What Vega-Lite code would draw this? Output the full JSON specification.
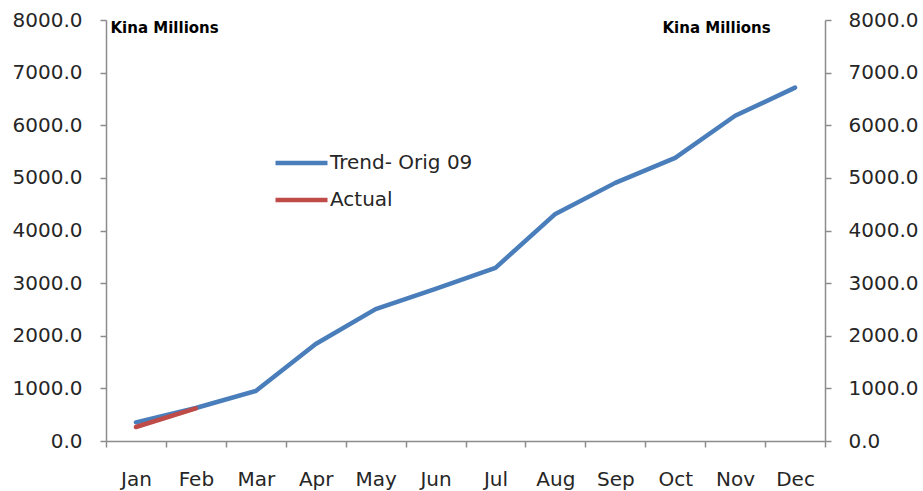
{
  "$schema": "https://vega.github.io/schema/vega-lite/v6.json",
  "width": 719,
  "height": 421,
  "autosize": {"type": "none"},
  "padding": {"left": 106, "top": 20, "right": 98, "bottom": 50},
  "background": "white",
  "config": {
    "view": {"stroke": null},
    "font": "DejaVu Sans",
    "axis": {
      "domainColor": "#8c8c8c",
      "tickColor": "#8c8c8c",
      "domainWidth": 1.5,
      "tickWidth": 1.5,
      "tickSize": 6,
      "grid": false,
      "labelFont": "DejaVu Sans",
      "labelFontSize": 20,
      "labelColor": "#262626"
    }
  },
  "data": {
    "values": [
      {"month": "Jan", "series": "Trend- Orig 09", "value": 355},
      {"month": "Feb", "series": "Trend- Orig 09", "value": 627},
      {"month": "Mar", "series": "Trend- Orig 09", "value": 950},
      {"month": "Apr", "series": "Trend- Orig 09", "value": 1844},
      {"month": "May", "series": "Trend- Orig 09", "value": 2505},
      {"month": "Jun", "series": "Trend- Orig 09", "value": 2890},
      {"month": "Jul", "series": "Trend- Orig 09", "value": 3290},
      {"month": "Aug", "series": "Trend- Orig 09", "value": 4315},
      {"month": "Sep", "series": "Trend- Orig 09", "value": 4905},
      {"month": "Oct", "series": "Trend- Orig 09", "value": 5380},
      {"month": "Nov", "series": "Trend- Orig 09", "value": 6180},
      {"month": "Dec", "series": "Trend- Orig 09", "value": 6715},
      {"month": "Jan", "series": "Actual", "value": 266},
      {"month": "Feb", "series": "Actual", "value": 620}
    ]
  },
  "layer": [
    {
      "mark": {"type": "line", "strokeWidth": 4.5, "strokeCap": "round", "strokeJoin": "round"},
      "encoding": {
        "x": {
          "field": "month",
          "type": "ordinal",
          "sort": ["Jan", "Feb", "Mar", "Apr", "May", "Jun", "Jul", "Aug", "Sep", "Oct", "Nov", "Dec"],
          "scale": {"type": "band", "paddingInner": 0, "paddingOuter": 0},
          "axis": {"title": null, "labelAngle": 0, "tickBand": "extent", "labelPadding": 22}
        },
        "y": {
          "field": "value",
          "type": "quantitative",
          "scale": {"domain": [0, 8000]},
          "axis": {
            "orient": "left",
            "values": [0, 1000, 2000, 3000, 4000, 5000, 6000, 7000, 8000],
            "format": ".1f",
            "labelPadding": 18,
            "title": "Kina Millions",
            "titleAngle": 0,
            "titleAlign": "left",
            "titleBaseline": "middle",
            "titleX": 4,
            "titleY": 7,
            "titleFont": "DejaVu Sans",
            "titleFontSize": 15,
            "titleFontWeight": "bold",
            "titleColor": "#000000"
          }
        },
        "color": {
          "field": "series",
          "type": "nominal",
          "scale": {"domain": ["Trend- Orig 09", "Actual"], "range": ["#4a7ebb", "#be4b48"]},
          "legend": {
            "title": null,
            "orient": "none",
            "legendX": 167,
            "legendY": 133,
            "padding": 0,
            "symbolType": "stroke",
            "symbolSize": 2704,
            "symbolStrokeWidth": 4.5,
            "clipHeight": 20,
            "rowPadding": 17,
            "labelOffset": 0,
            "labelFont": "DejaVu Sans",
            "labelFontSize": 20,
            "labelColor": "#262626"
          }
        }
      }
    },
    {
      "mark": {"type": "line", "opacity": 0},
      "encoding": {
        "x": {
          "field": "month",
          "type": "ordinal",
          "sort": ["Jan", "Feb", "Mar", "Apr", "May", "Jun", "Jul", "Aug", "Sep", "Oct", "Nov", "Dec"]
        },
        "detail": {"field": "series"},
        "y": {
          "field": "value",
          "type": "quantitative",
          "scale": {"domain": [0, 8000]},
          "axis": {
            "orient": "right",
            "values": [0, 1000, 2000, 3000, 4000, 5000, 6000, 7000, 8000],
            "format": ".1f",
            "labelPadding": 17,
            "title": "Kina Millions",
            "titleAngle": 0,
            "titleAlign": "left",
            "titleBaseline": "middle",
            "titleX": -163,
            "titleY": 7,
            "titleFont": "DejaVu Sans",
            "titleFontSize": 15,
            "titleFontWeight": "bold",
            "titleColor": "#000000"
          }
        }
      }
    }
  ],
  "resolve": {"axis": {"y": "independent"}}
}
